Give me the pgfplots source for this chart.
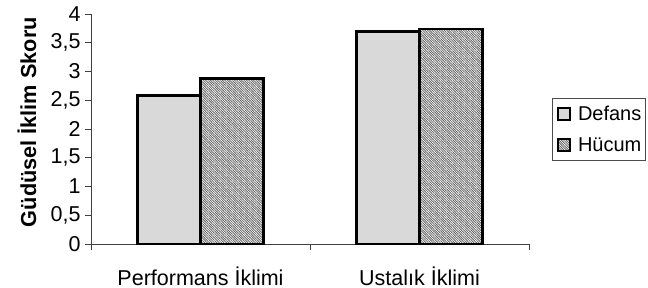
\documentclass[border=0pt]{standalone}
\usepackage{fontspec}
\setmainfont{Liberation Sans}
\usepackage{pgfplots}
\pgfplotsset{compat=1.18}
\usetikzlibrary{patterns.meta}
\begin{document}
\begin{tikzpicture}
\begin{axis}[
  at={(0,0)}, anchor=south west,
  scale only axis, width=438bp, height=230bp,
  xmin=0, xmax=2, ymin=0, ymax=4,
  axis lines=left,
  axis line style={-, black!75, line width=0.8bp},
  every tick/.style={black!75, line width=0.8bp},
  tick align=outside,
  major tick length=6bp,
  xtick={0,1,2}, xticklabels={},
  extra x ticks={0.5,1.5},
  extra x tick labels={Performans İklimi, Ustalık İklimi},
  extra x tick style={major tick length=0pt, tick label style={anchor=base, yshift=-41bp}},
  ytick={0,0.5,...,4},
  /pgf/number format/.cd, use comma, fixed, precision=1, assume math mode=true,
  /pgfplots/.cd,
  tick label style={font=\fontsize{21.5bp}{25bp}\selectfont},
  yticklabel style={xshift=-1bp},
  ylabel={\bfseries Güdüsel İklim Skoru},
  ylabel style={font=\fontsize{21.7bp}{25bp}\selectfont, at={(axis description cs:-0.146,0.53)}, anchor=center},
  legend style={at={(axis description cs:1.0525,0.635)}, anchor=north west,
    draw=black!70, line width=0.8bp, font=\fontsize{20bp}{23bp}\selectfont,
    inner xsep=2bp, inner ysep=6bp, row sep=11bp,
    nodes={inner sep=2bp}},
  legend cell align=left,
]
\addplot[ybar, bar width=0.288, bar shift=-0.144, fill=black!15, draw=black, line width=2.6bp,
  legend image code/.code={\path (0bp,0bp) (19bp,0bp);\draw[fill=black!15, draw=black, line width=2bp] (2bp,-6bp) rectangle (14bp,6bp);}]
  coordinates {(0.5,2.58) (1.5,3.70)};
\addlegendentry{Defans}
\addplot[ybar, bar width=0.288, bar shift=0.144, draw=black, line width=2.6bp,
  pattern={Lines[angle=-45,distance=1.7bp,line width=0.85bp]}, pattern color=black!60,
  legend image code/.code={\path (0bp,0bp) (19bp,0bp);\draw[pattern={Lines[angle=-45,distance=1.7bp,line width=0.85bp]}, pattern color=black!60, draw=black, line width=2bp] (2bp,-6bp) rectangle (14bp,6bp);}]
  coordinates {(0.5,2.88) (1.5,3.74)};
\addlegendentry{Hücum}
\end{axis}
\pgfresetboundingbox
\path[use as bounding box] (-91bp,-44bp) rectangle (557bp,244bp);
\end{tikzpicture}
\end{document}
